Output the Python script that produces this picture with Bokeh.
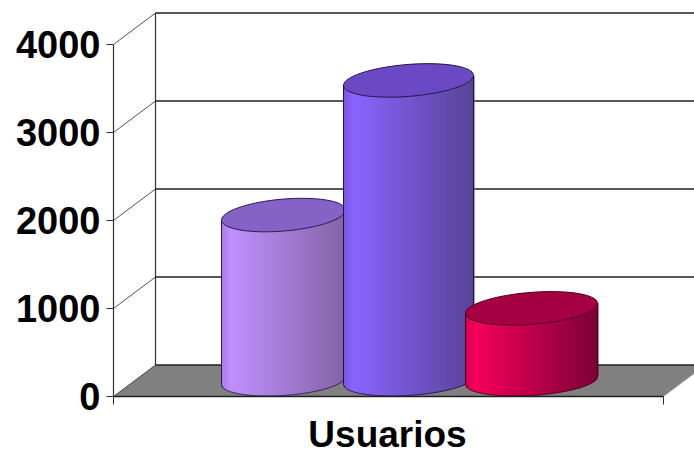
import numpy as np
from bokeh.embed import file_html
from bokeh.models import FixedTicker, Range1d
from bokeh.plotting import figure
from bokeh.resources import INLINE

# data
category = "Usuarios"
users = [1880, 3410, 820]
y_ticks = [0, 1000, 2000, 3000, 4000]

# style: colours per cylinder
left_cols = [(192, 144, 255), (138, 100, 255), (245, 0, 90)]
right_cols = [(132, 98, 165), (88, 68, 150), (125, 0, 55)]
top_cols = ["#8462c6", "#6c49c4", "#a50042"]
edge_cols = ["#2a1850", "#20104a", "#4a0020"]

# layout: 1 px of height expressed in value units; x data are page pixels
PX = 1 / 0.088
X0, X1, XEND = 113, 663, 694
DX, DY = 42, 31.5 * PX
BAR_X = [283, 408, 531]
BAR_HW = [62, 65, 66]
BASE = 16 * PX   # centre of the cylinder's base above the front edge
B_TOP, TILT_TOP = 16, 5
B_BOT, TILT_BOT = 15, 4

p = figure(width=694, height=453, frame_width=581, frame_height=396,
           x_range=Range1d(X0, XEND), y_range=Range1d(0, 396 * PX),
           output_backend="svg", toolbar_location=None,
           min_border_left=113, min_border_right=0, min_border_top=0, min_border_bottom=57)
p.outline_line_color = None
p.background_fill_color = "white"
p.grid.visible = False

# floor
p.patch([X0, X0 + DX, X1 + DX, X1], [0, DY, DY, 0], fill_color="#808080", line_color=None)

# walls and gridlines
wall = "#303030"
p.segment([X0 + DX], [DY], [X0 + DX], [y_ticks[-1] + DY], line_color=wall, line_width=1.2)
for v in y_ticks:
    p.line([X0, X0 + DX], [v, v + DY], line_color="#404040", line_width=0.9)
    p.line([X0 + DX, X1 + DX], [v + DY, v + DY], line_color="#202020", line_width=1.3)
p.line([X1, X1 + DX], [0, DY], line_color="#b0b0b0", line_width=0.8)

# cylinders
for i, v in enumerate(users):
    cx, hw = BAR_X[i], BAR_HW[i]
    xs = np.arange(cx - hw, cx + hw + 1)
    u = (xs - cx) / hw
    circ = np.sqrt(np.clip(1 - u ** 2, 0, 1))
    top_c = v + BASE
    arc_top = top_c + (TILT_TOP * u - B_TOP * circ) * PX
    arc_bot = BASE + (TILT_BOT * u - B_BOT * circ) * PX
    t = (xs - xs[0]) / (xs[-1] - xs[0])
    cols = []
    for tt in t:
        k = max(0.0, (tt - 0.08) / 0.92)
        dim = 0.88 + 0.12 * min(tt / 0.08, 1.0)
        c = [int((l + (r - l) * k) * dim) for l, r in zip(left_cols[i], right_cols[i])]
        cols.append("#%02x%02x%02x" % tuple(c))
    p.quad(left=xs - 0.5, right=xs + 1.0, bottom=arc_bot, top=arc_top,
           fill_color=cols, line_color=None)
    p.line(xs, arc_bot, line_color=edge_cols[i], line_width=1)
    p.line([xs[0], xs[0]], [arc_bot[0], arc_top[0]], line_color=edge_cols[i], line_width=1)
    p.line([xs[-1], xs[-1]], [arc_bot[-1], arc_top[-1]], line_color=edge_cols[i], line_width=1)
    th = np.linspace(0, 2 * np.pi, 90)
    p.patch(cx + hw * np.cos(th),
            top_c + (TILT_TOP * np.cos(th) + B_TOP * np.sin(th)) * PX,
            fill_color=top_cols[i], line_color=edge_cols[i], line_width=1)

# axes
ya = p.yaxis[0]
ya.ticker = FixedTicker(ticks=y_ticks)
ya.bounds = (0, y_ticks[-1])
ya.axis_line_color = "#303030"
ya.axis_line_width = 1.2
ya.major_tick_line_color = "#303030"
ya.major_tick_in = 0
ya.major_tick_out = 7
ya.minor_tick_line_color = None
ya.major_label_standoff = 6
ya.major_label_text_font = "Liberation Sans"
ya.major_label_text_font_style = "bold"
ya.major_label_text_font_size = "38px"
ya.major_label_text_color = "black"

LABEL_X = 387
xa = p.xaxis[0]
xa.ticker = FixedTicker(ticks=[LABEL_X], minor_ticks=[X0, X1])
xa.major_label_overrides = {LABEL_X: category}
xa.bounds = (X0, X1)
xa.axis_line_color = "#202020"
xa.axis_line_width = 1.3
xa.major_tick_line_color = None
xa.minor_tick_line_color = "#303030"
xa.minor_tick_in = 0
xa.minor_tick_out = 8
xa.major_label_standoff = 9
xa.major_label_text_font = "Liberation Sans"
xa.major_label_text_font_style = "bold"
xa.major_label_text_font_size = "37px"
xa.major_label_text_color = "black"

open("out.html", "w").write(file_html(p, INLINE))
